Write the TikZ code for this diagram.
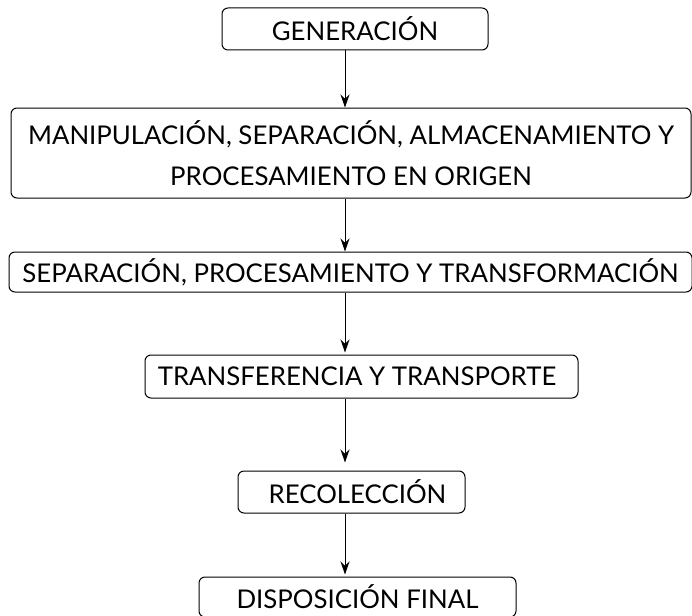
\documentclass[tikz,border=0pt]{standalone}
\usepackage{fontspec}
\setmainfont{Lato}
\usetikzlibrary{arrows.meta,calc}
\begin{document}
\begin{tikzpicture}[x=1pt,y=1pt,
  box/.style={draw, line width=1pt, rounded corners=6pt, align=center, inner sep=0pt,
    font=\fontsize{25.8}{41}\selectfont},
  arr/.style={-{Stealth[length=13pt,width=9pt]}, line width=1pt}]
\useasboundingbox (0,0) rectangle (692,-615);
\clip (0,0) rectangle (692,-615);
\node[box, minimum width=266pt, minimum height=42pt] (n1) at (355,-29) {GENERACIÓN};
\node[box, minimum width=680pt, minimum height=90pt] (n2) at (351,-153) {MANIPULACIÓN, SEPARACIÓN, ALMACENAMIENTO Y\\PROCESAMIENTO EN ORIGEN};
\node[box, minimum width=683pt, minimum height=40pt] (n3) at (350.5,-272) {SEPARACIÓN, PROCESAMIENTO Y TRANSFORMACIÓN};
\node[box, minimum width=433pt, minimum height=43pt] (n4) at (361.5,-376.5) {\hspace*{-9pt}TRANSFERENCIA Y TRANSPORTE};
\node[box, minimum width=227pt, minimum height=42pt] (n5) at (351.5,-492) {\hspace*{12pt}RECOLECCIÓN};
\node[box, minimum width=317pt, minimum height=40pt] (n6) at (357.5,-597) {DISPOSICIÓN FINAL};
\coordinate (ax) at (345,0);
\draw[arr] (ax |- n1.south) -- (ax |- n2.north);
\draw[arr] (ax |- n2.south) -- (ax |- n3.north);
\draw[arr] (ax |- n3.south) -- ($(ax |- n4.north)+(0,2)$);
\draw[arr] (ax |- n4.south) -- ($(ax |- n5.north)+(0,8)$);
\draw[arr] (ax |- n5.south) -- ($(ax |- n6.north)+(0,2)$);
\end{tikzpicture}
\end{document}
